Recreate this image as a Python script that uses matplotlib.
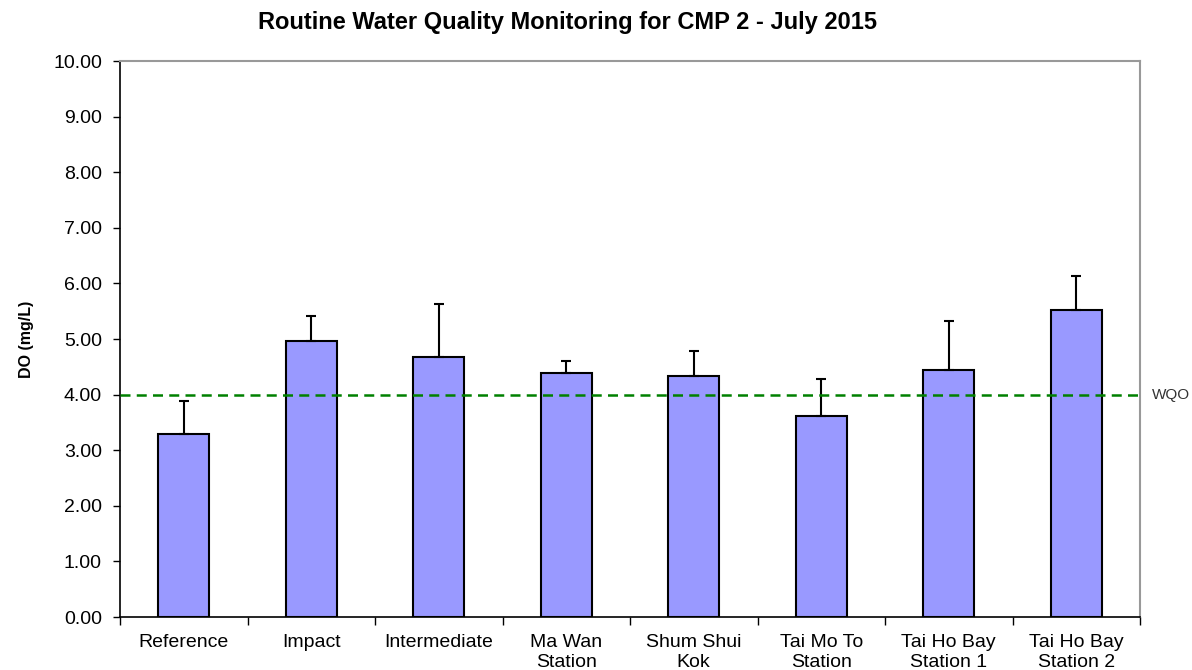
import matplotlib
matplotlib.use("Agg")
import matplotlib.pyplot as plt
import numpy as np

plt.rcParams['font.family'] = ['Liberation Sans', 'DejaVu Sans']

categories = ["Reference", "Impact", "Intermediate", "Ma Wan\nStation", "Shum Shui\nKok",
              "Tai Mo To\nStation", "Tai Ho Bay\nStation 1", "Tai Ho Bay\nStation 2"]
do_mean = [3.29, 4.96, 4.67, 4.38, 4.34, 3.61, 4.44, 5.52]
do_err_upper = [0.60, 0.45, 0.96, 0.23, 0.44, 0.67, 0.89, 0.61]
wqo = 4.0
yticks = np.arange(0, 10.01, 1.0)

fig = plt.figure(figsize=(11.92, 6.70), dpi=100)
ax = fig.add_axes([120/1192, 53/670, 1020/1192, 556/670])

x = np.arange(len(categories))
ax.bar(x, do_mean, width=0.4, color='#9999FF', edgecolor='black', linewidth=1.5, zorder=3)
ax.errorbar(x, do_mean, yerr=[np.zeros(len(do_mean)), do_err_upper], fmt='none',
            ecolor='black', elinewidth=1.5, capsize=3.3, capthick=1.5, zorder=4)
ax.axhline(wqo, color='#008000', linestyle=(0, (4, 2.5)), linewidth=1.8, zorder=5)
ax.text(1.012, wqo, "WQO", transform=ax.get_yaxis_transform(), va='center', ha='left',
        fontsize=11, color='#333333')

ax.set_xlim(-0.5, len(categories) - 0.5)
ax.set_ylim(0, 10)
ax.set_yticks(yticks)
ax.set_yticklabels([f"{v:.2f}" for v in yticks], fontsize=14)
ax.set_xticks(x)
ax.set_xticklabels(categories, fontsize=14, linespacing=1.25)
ax.set_xticks(np.arange(-0.5, len(categories), 1.0), minor=True)
ax.tick_params(axis='x', which='major', length=0, pad=12)
ax.tick_params(axis='x', which='minor', length=6, direction='out', width=1)
ax.tick_params(axis='y', length=5, direction='out', width=1, pad=8)

for s in ['top', 'right']:
    ax.spines[s].set_color('#999999')
    ax.spines[s].set_linewidth(1.5)
for s in ['left', 'bottom']:
    ax.spines[s].set_color('black')
    ax.spines[s].set_linewidth(1.2)

ax.set_ylabel("DO (mg/L)", fontsize=11.5, fontweight='bold', labelpad=14)
fig.text(568/1192, 1 - 23/670, "Routine Water Quality Monitoring for CMP 2 - July 2015",
         ha='center', va='center', fontsize=17, fontweight='bold')

fig.savefig("out.png", dpi=100)
